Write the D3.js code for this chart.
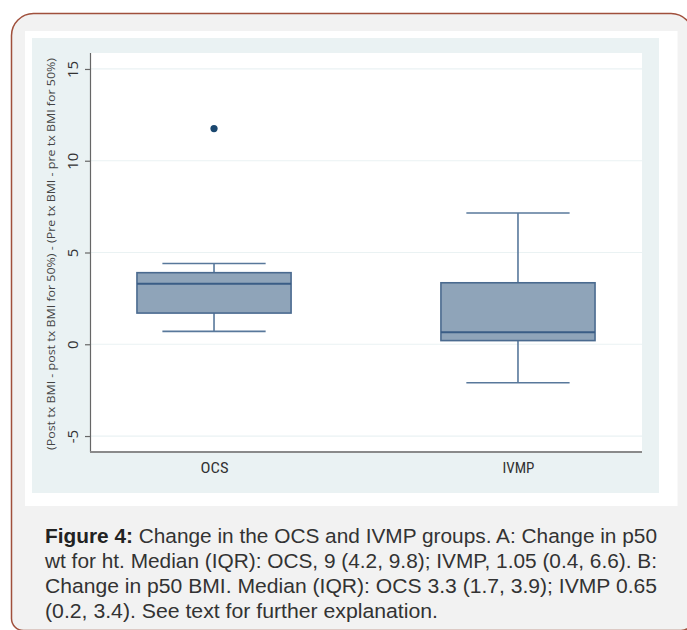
<!DOCTYPE html>
<html>
<head>
<meta charset="utf-8">
<script src="https://cdn.jsdelivr.net/npm/d3@7"></script>
<style>
  html, body { margin: 0; padding: 0; background: #ffffff; }
  svg { display: block; }
</style>
</head>
<body>
<svg id="chart" width="687" height="630"></svg>
<script>
// ---- data ----
const categories = ["OCS", "IVMP"];
const lowerWhisker = [0.7, -2.1];
const q1 = [1.7, 0.2];
const median = [3.3, 0.65];
const q3 = [3.9, 3.35];
const upperWhisker = [4.4, 7.15];
const outlierCategory = ["OCS"];
const outlierValue = [11.75];
const yTicks = [-5, 0, 5, 10, 15];
const yTitle = "(Post tx BMI - post tx BMI for 50%) - (Pre tx BMI - pre tx BMI for 50%)";
const captionLines = [
  ["Figure 4:", " Change in the OCS and IVMP groups. A: Change in p50"],
  ["", "wt for ht. Median (IQR): OCS, 9 (4.2, 9.8); IVMP, 1.05 (0.4, 6.6). B:"],
  ["", "Change in p50 BMI. Median (IQR): OCS 3.3 (1.7, 3.9); IVMP 0.65"],
  ["", "(0.2, 3.4). See text for further explanation."]
];

const svg = d3.select("#chart");

// card
const cx0 = 11.5, cy0 = 13.5, cx1 = 693, cy1 = 630.5, rT = 22, rB = 12;
svg.append("path")
  .attr("d", `M${cx0},${cy0 + rT} A${rT},${rT} 0 0 1 ${cx0 + rT},${cy0} L${cx1 - rT},${cy0} A${rT},${rT} 0 0 1 ${cx1},${cy0 + rT} L${cx1},${cy1 - rB} A${rB},${rB} 0 0 1 ${cx1 - rB},${cy1} L${cx0 + rB},${cy1} A${rB},${rB} 0 0 1 ${cx0},${cy1 - rB} Z`)
  .attr("fill", "#f2f2f2")
  .attr("stroke", "#a0503c")
  .attr("stroke-width", 1.5);

// white image panel
svg.append("rect").attr("x", 25).attr("y", 31).attr("width", 652.5).attr("height", 475).attr("fill", "#ffffff");
// stata graph region
svg.append("rect").attr("x", 32).attr("y", 38).attr("width", 627).attr("height", 455).attr("fill", "#eaf2f3");

const plot = { left: 90, right: 642, top: 53, bottom: 452 };
// plot region
svg.append("rect").attr("x", plot.left).attr("y", plot.top)
  .attr("width", plot.right - plot.left).attr("height", plot.bottom - plot.top).attr("fill", "#ffffff");

const y = d3.scaleLinear().domain([-5.87, 15.87]).range([plot.bottom, plot.top]);
const x = d3.scalePoint().domain(categories).range([plot.left, plot.right]).padding(0.408);
const boxW = x.step() * 0.507;
const capW = boxW * 0.67;

// gridlines
svg.append("g").selectAll("line").data(yTicks).join("line")
  .attr("x1", plot.left).attr("x2", plot.right)
  .attr("y1", d => y(d)).attr("y2", d => y(d))
  .attr("stroke", "#eaf2f3").attr("stroke-width", 1.2);

// y axis
const yAxis = svg.append("g").attr("transform", `translate(${plot.left},0)`)
  .call(d3.axisLeft(y).tickValues(yTicks).tickSize(5).tickSizeOuter(0).tickFormat(d => String(d)));
yAxis.select(".domain").attr("stroke", "#666").attr("stroke-width", 1.2)
  .attr("d", `M0.5,${plot.top}V${plot.bottom}`);
yAxis.selectAll(".tick line").attr("stroke", "#666").attr("stroke-width", 1.2);
yAxis.selectAll(".tick text")
  .attr("x", 0).attr("dy", 0).attr("y", -12)
  .attr("transform", "rotate(-90)")
  .attr("text-anchor", "middle")
  .attr("fill", "#333")
  .style("font-family", "'Open Sans', 'DejaVu Sans', sans-serif")
  .style("font-size", "15px");

// y title
svg.append("text")
  .attr("transform", `translate(55,254) rotate(-90)`)
  .attr("text-anchor", "middle")
  .attr("fill", "#444")
  .attr("textLength", 392)
  .attr("lengthAdjust", "spacingAndGlyphs")
  .style("font-family", "'Open Sans', 'DejaVu Sans', sans-serif")
  .style("font-size", "11.5px")
  .text(yTitle);

// x axis
const xAxis = svg.append("g").attr("transform", `translate(0,${plot.bottom})`)
  .call(d3.axisBottom(x).tickSize(0).tickSizeOuter(0));
xAxis.select(".domain").attr("stroke", "#8a8a8a").attr("stroke-width", 2)
  .attr("d", `M${plot.left},0H${plot.right}`);
xAxis.selectAll(".tick text")
  .attr("y", 21).attr("dy", 0)
  .attr("fill", "#333")
  .style("font-family", "'Liberation Sans Narrow', 'Roboto Condensed', 'DejaVu Sans Condensed', sans-serif")
  .style("font-size", "15px")
  .attr("textLength", (d) => d === "OCS" ? 28 : 32)
  .attr("lengthAdjust", "spacingAndGlyphs");

// boxes
const boxData = categories.map((c, i) => ({
  c, lo: lowerWhisker[i], q1: q1[i], med: median[i], q3: q3[i], hi: upperWhisker[i]
}));
const g = svg.append("g");
const bx = g.selectAll("g.box").data(boxData).join("g").attr("class", "box");
const whiskerColor = "#58789b";
bx.append("line")
  .attr("x1", d => x(d.c)).attr("x2", d => x(d.c))
  .attr("y1", d => y(d.q3)).attr("y2", d => y(d.hi))
  .attr("stroke", whiskerColor).attr("stroke-width", 1.6);
bx.append("line")
  .attr("x1", d => x(d.c)).attr("x2", d => x(d.c))
  .attr("y1", d => y(d.q1)).attr("y2", d => y(d.lo))
  .attr("stroke", whiskerColor).attr("stroke-width", 1.6);
bx.append("line")
  .attr("x1", d => x(d.c) - capW / 2).attr("x2", d => x(d.c) + capW / 2)
  .attr("y1", d => y(d.hi)).attr("y2", d => y(d.hi))
  .attr("stroke", whiskerColor).attr("stroke-width", 1.6);
bx.append("line")
  .attr("x1", d => x(d.c) - capW / 2).attr("x2", d => x(d.c) + capW / 2)
  .attr("y1", d => y(d.lo)).attr("y2", d => y(d.lo))
  .attr("stroke", whiskerColor).attr("stroke-width", 1.6);
bx.append("rect")
  .attr("x", d => x(d.c) - boxW / 2).attr("width", boxW)
  .attr("y", d => y(d.q3)).attr("height", d => y(d.q1) - y(d.q3))
  .attr("fill", "#8fa4b9").attr("stroke", "#4a6a8f").attr("stroke-width", 1.6);
bx.append("line")
  .attr("x1", d => x(d.c) - boxW / 2).attr("x2", d => x(d.c) + boxW / 2)
  .attr("y1", d => y(d.med)).attr("y2", d => y(d.med))
  .attr("stroke", "#3a5d86").attr("stroke-width", 2);

// outliers
g.selectAll("circle.out").data(outlierValue.map((v, i) => ({ c: outlierCategory[i], v })))
  .join("circle").attr("class", "out")
  .attr("cx", d => x(d.c)).attr("cy", d => y(d.v)).attr("r", 3.6)
  .attr("fill", "#1a476f");

// caption
const cap = svg.append("g")
  .style("font-family", "'Liberation Sans', Arial, sans-serif")
  .style("font-size", "20.5px")
  .attr("fill", "#333");
captionLines.forEach((ln, i) => {
  const t = cap.append("text").attr("x", 45).attr("y", 542.5 + i * 25)
    .attr("textLength", i < 3 ? 612 : 393).attr("lengthAdjust", "spacingAndGlyphs");
  if (ln[0]) t.append("tspan").style("font-weight", "bold").attr("fill", "#222").text(ln[0]);
  t.append("tspan").text(ln[1]);
});
</script>
</body>
</html>
